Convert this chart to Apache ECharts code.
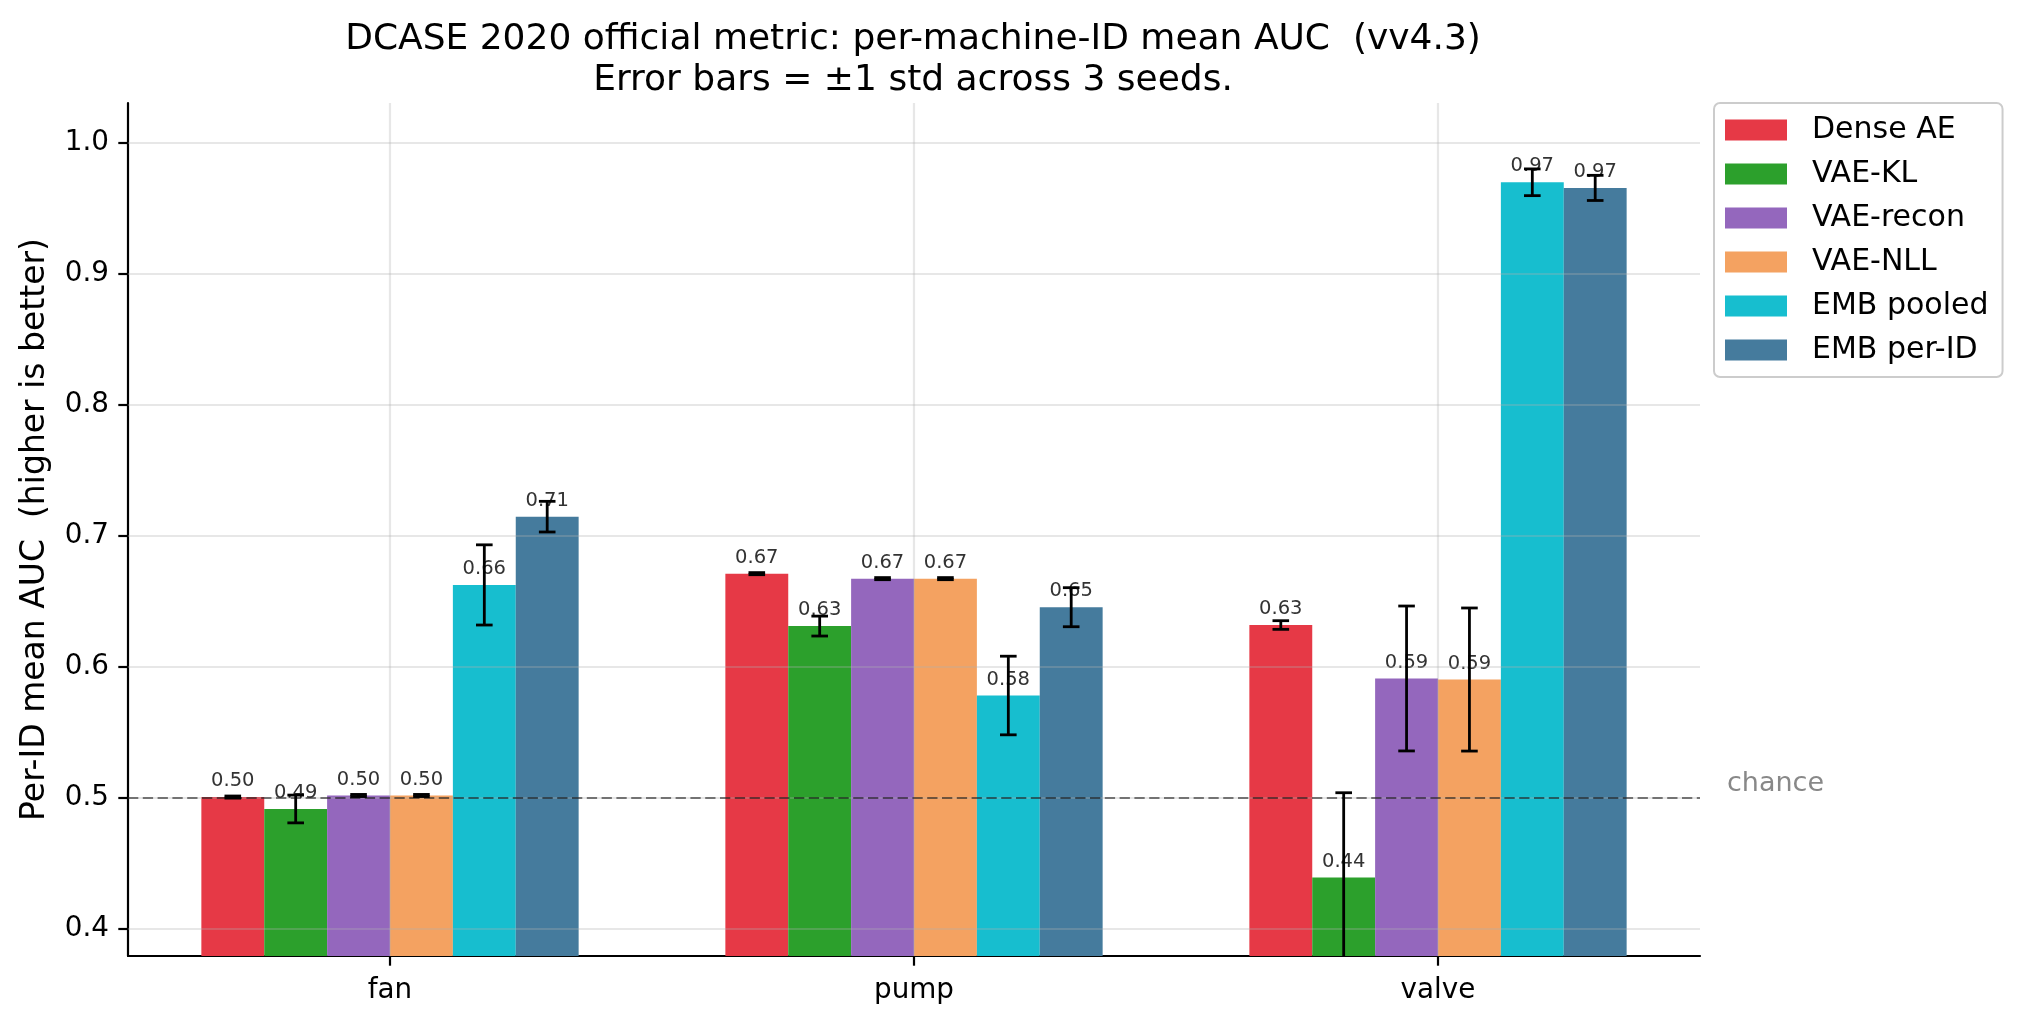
<!DOCTYPE html>
<html>
<head>
<meta charset="utf-8">
<script src="https://cdn.jsdelivr.net/npm/echarts@6/dist/echarts.min.js"></script>
<style>
  html, body { margin: 0; padding: 0; background: #ffffff; }
  #chart { width: 2023px; height: 1023px; }
</style>
</head>
<body>
<div id="chart"></div>
<script>
// ---------- data ----------
const categories = ['fan', 'pump', 'valve'];
const methods = ['Dense AE', 'VAE-KL', 'VAE-recon', 'VAE-NLL', 'EMB pooled', 'EMB per-ID'];
const colors = ['#e63946', '#2ca02c', '#9467bd', '#f4a261', '#17becf', '#457b9d'];

const denseAE      = [0.5003, 0.6708, 0.6316];
const denseAEStd   = [0.0008, 0.0008, 0.0033];
const vaeKL        = [0.4912, 0.6308, 0.4389];
const vaeKLStd     = [0.0106, 0.0076, 0.0647];
const vaeRecon     = [0.5015, 0.6670, 0.5908];
const vaeReconStd  = [0.0008, 0.0008, 0.0553];
const vaeNLL       = [0.5015, 0.6670, 0.5900];
const vaeNLLStd    = [0.0008, 0.0008, 0.0546];
const embPooled    = [0.6622, 0.5778, 0.9695];
const embPooledStd = [0.0306, 0.0300, 0.0102];
const embPerID     = [0.7143, 0.6452, 0.9652];
const embPerIDStd  = [0.0117, 0.0149, 0.0096];

const yTicks = [0.4, 0.5, 0.6, 0.7, 0.8, 0.9, 1.0];
const chanceLevel = 0.5;
const yMin = 0.379, yMax = 1.03;

const means = [denseAE, vaeKL, vaeRecon, vaeNLL, embPooled, embPerID];
const stds  = [denseAEStd, vaeKLStd, vaeReconStd, vaeNLLStd, embPooledStd, embPerIDStd];

// ---------- chart ----------
const FONT = 'DejaVu Sans';
const BAR_FRAC = 0.12;          // each bar = 12% of category band
const nSeries = methods.length;

const chart = echarts.init(document.getElementById('chart'), null, { renderer: 'canvas' });

const barSeries = methods.map((name, i) => ({
  name: name,
  type: 'bar',
  data: means[i],
  barGap: '0%',
  barCategoryGap: '28%',
  itemStyle: { color: colors[i] },
  z: 2,
  label: {
    show: true,
    position: 'top',
    distance: 6,
    fontFamily: FONT,
    fontSize: 19.5,
    color: '#333333',
    formatter: p => p.value.toFixed(2)
  }
}));

const errData = [];
means.forEach((arr, si) => arr.forEach((m, ci) => errData.push([ci, m, stds[si][ci], si])));

const errSeries = {
  type: 'custom',
  name: 'errorbars',
  z: 6,
  clip: true,
  silent: true,
  data: errData,
  encode: { x: 0, y: 1 },
  renderItem: function (params, api) {
    const ci = api.value(0), m = api.value(1), s = api.value(2), si = api.value(3);
    const band = api.size([1, 0])[0];
    const bw = band * BAR_FRAC;
    const cx = api.coord([ci, m])[0] + (si - (nSeries - 1) / 2) * bw;
    const yt = api.coord([ci, m + s])[1];
    const yb = api.coord([ci, m - s])[1];
    const hw = 8.3;
    const st = { stroke: '#000000', lineWidth: 2.8 };
    return {
      type: 'group',
      children: [
        { type: 'line', shape: { x1: cx, y1: yt, x2: cx, y2: yb }, style: st },
        { type: 'line', shape: { x1: cx - hw, y1: yt, x2: cx + hw, y2: yt }, style: st },
        { type: 'line', shape: { x1: cx - hw, y1: yb, x2: cx + hw, y2: yb }, style: st }
      ]
    };
  }
};

const gridLineStyle = { color: 'rgba(176,176,176,0.3)', width: 2.2, type: 'solid' };
const gridSeries = {
  type: 'line',
  name: 'grid',
  data: [],
  z: 3,
  silent: true,
  markLine: {
    silent: true,
    symbol: ['none', 'none'],
    animation: false,
    label: { show: false },
    lineStyle: gridLineStyle,
    emphasis: { disabled: true },
    data: yTicks.map(v => ({ yAxis: v })).concat(categories.map(c => ({ xAxis: c })))
  }
};

const chanceSeries = {
  type: 'line',
  name: 'chance',
  data: [],
  z: 4,
  silent: true,
  markLine: {
    silent: true,
    symbol: ['none', 'none'],
    animation: false,
    emphasis: { disabled: true },
    lineStyle: { color: 'rgba(0,0,0,0.5)', width: 2.2, type: [10.3, 4.5] },
    label: {
      show: true,
      position: 'end',
      distance: 27,
      formatter: 'chance',
      fontFamily: FONT,
      fontSize: 27,
      color: '#888888',
      verticalAlign: 'bottom'
    },
    data: [{ yAxis: chanceLevel }]
  }
};

const option = {
  animation: false,
  backgroundColor: '#ffffff',
  textStyle: { fontFamily: FONT },
  title: {
    text: 'DCASE 2020 official metric: per-machine-ID mean AUC  (vv4.3)\nError bars = ±1 std across 3 seeds.',
    left: 908,
    top: 14,
    textAlign: 'center',
    textStyle: { fontFamily: FONT, fontSize: 36, fontWeight: 'normal', color: '#000000', lineHeight: 41 }
  },
  legend: {
    data: methods,
    orient: 'vertical',
    left: 1714,
    top: 103,
    icon: 'rect',
    itemWidth: 62,
    itemHeight: 21,
    itemGap: 14,
    padding: [12, 14, 12, 11],
    borderColor: '#cccccc',
    borderWidth: 2,
    borderRadius: 6,
    backgroundColor: 'rgba(255,255,255,0.8)',
    selectedMode: false,
    textStyle: { fontFamily: FONT, fontSize: 30, color: '#000000', lineHeight: 30, padding: [0, 0, 0, 20] }
  },
  grid: { left: 128, top: 103, width: 1572, height: 853, containLabel: false },
  xAxis: {
    type: 'category',
    data: categories,
    boundaryGap: true,
    axisLine: { show: true, lineStyle: { color: '#000000', width: 2.2 } },
    axisTick: { show: true, alignWithLabel: true, length: 9.7, lineStyle: { color: '#000000', width: 2.2 } },
    axisLabel: { fontFamily: FONT, fontSize: 27.8, color: '#000000', margin: 21 },
    splitLine: { show: false }
  },
  yAxis: {
    type: 'value',
    min: yMin,
    max: yMax,
    name: 'Per-ID mean AUC  (higher is better)',
    nameLocation: 'middle',
    nameGap: 76,
    nameTextStyle: { fontFamily: FONT, fontSize: 33, color: '#000000' },
    axisLine: { show: true, lineStyle: { color: '#000000', width: 2.2 } },
    axisTick: { show: true, length: 9.7, customValues: yTicks, lineStyle: { color: '#000000', width: 2.2 } },
    axisLabel: { fontFamily: FONT, fontSize: 27.8, color: '#000000', margin: 19, customValues: yTicks,
                 formatter: v => v.toFixed(1) },
    splitLine: { show: false }
  },
  series: barSeries.concat([gridSeries, chanceSeries, errSeries])
};

chart.setOption(option);
</script>
</body>
</html>
